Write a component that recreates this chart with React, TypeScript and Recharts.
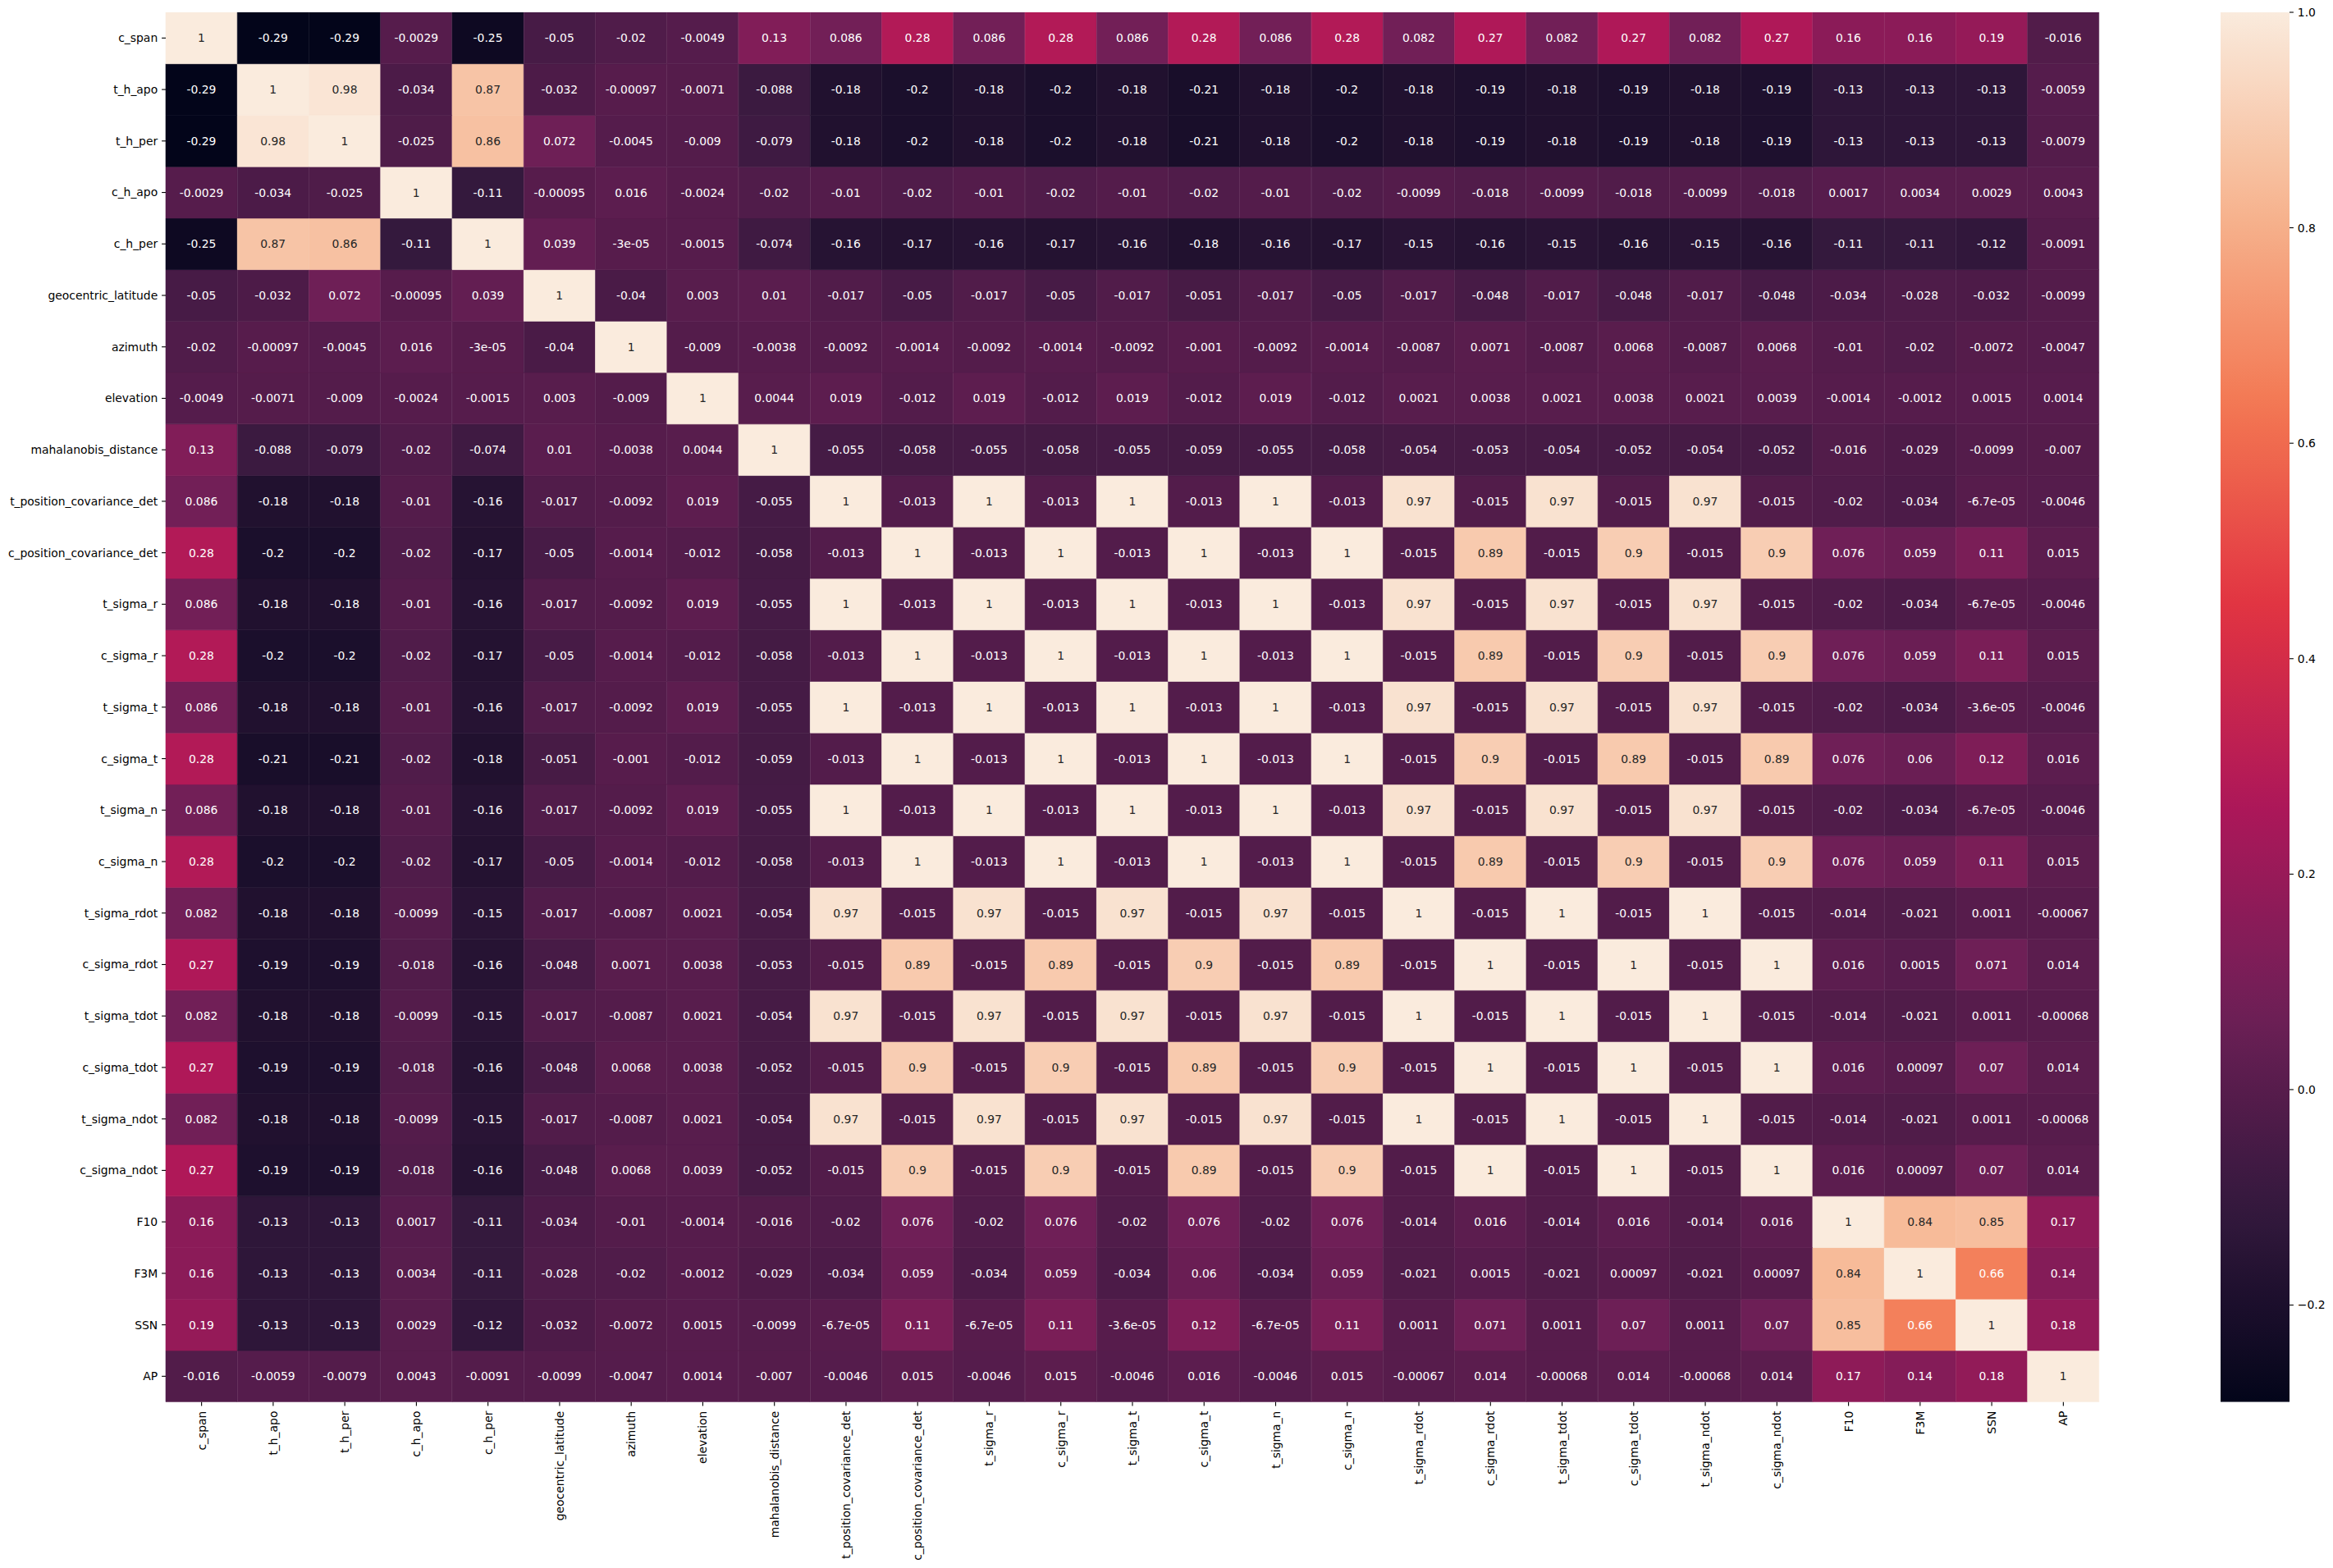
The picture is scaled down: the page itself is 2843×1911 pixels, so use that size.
import React from 'react';
import { BarChart, Bar, XAxis, YAxis, Cell, LabelList } from 'recharts';

const LABELS = [
  'c_span', 't_h_apo', 't_h_per', 'c_h_apo', 'c_h_per', 'geocentric_latitude', 'azimuth', 'elevation',
  'mahalanobis_distance', 't_position_covariance_det', 'c_position_covariance_det', 't_sigma_r', 'c_sigma_r',
  't_sigma_t', 'c_sigma_t', 't_sigma_n', 'c_sigma_n', 't_sigma_rdot', 'c_sigma_rdot', 't_sigma_tdot',
  'c_sigma_tdot', 't_sigma_ndot', 'c_sigma_ndot', 'F10', 'F3M', 'SSN', 'AP',
];

const r_c_span = [1, -0.29, -0.29, -0.0029, -0.25, -0.05, -0.02, -0.0049, 0.13, 0.086, 0.28, 0.086, 0.28, 0.086, 0.28, 0.086, 0.28, 0.082, 0.27, 0.082, 0.27, 0.082, 0.27, 0.16, 0.16, 0.19, -0.016];
const r_t_h_apo = [-0.29, 1, 0.98, -0.034, 0.87, -0.032, -0.00097, -0.0071, -0.088, -0.18, -0.2, -0.18, -0.2, -0.18, -0.21, -0.18, -0.2, -0.18, -0.19, -0.18, -0.19, -0.18, -0.19, -0.13, -0.13, -0.13, -0.0059];
const r_t_h_per = [-0.29, 0.98, 1, -0.025, 0.86, 0.072, -0.0045, -0.009, -0.079, -0.18, -0.2, -0.18, -0.2, -0.18, -0.21, -0.18, -0.2, -0.18, -0.19, -0.18, -0.19, -0.18, -0.19, -0.13, -0.13, -0.13, -0.0079];
const r_c_h_apo = [-0.0029, -0.034, -0.025, 1, -0.11, -0.00095, 0.016, -0.0024, -0.02, -0.01, -0.02, -0.01, -0.02, -0.01, -0.02, -0.01, -0.02, -0.0099, -0.018, -0.0099, -0.018, -0.0099, -0.018, 0.0017, 0.0034, 0.0029, 0.0043];
const r_c_h_per = [-0.25, 0.87, 0.86, -0.11, 1, 0.039, -3e-05, -0.0015, -0.074, -0.16, -0.17, -0.16, -0.17, -0.16, -0.18, -0.16, -0.17, -0.15, -0.16, -0.15, -0.16, -0.15, -0.16, -0.11, -0.11, -0.12, -0.0091];
const r_geo_lat = [-0.05, -0.032, 0.072, -0.00095, 0.039, 1, -0.04, 0.003, 0.01, -0.017, -0.05, -0.017, -0.05, -0.017, -0.051, -0.017, -0.05, -0.017, -0.048, -0.017, -0.048, -0.017, -0.048, -0.034, -0.028, -0.032, -0.0099];
const r_azimuth = [-0.02, -0.00097, -0.0045, 0.016, -3e-05, -0.04, 1, -0.009, -0.0038, -0.0092, -0.0014, -0.0092, -0.0014, -0.0092, -0.001, -0.0092, -0.0014, -0.0087, 0.0071, -0.0087, 0.0068, -0.0087, 0.0068, -0.01, -0.02, -0.0072, -0.0047];
const r_elevation = [-0.0049, -0.0071, -0.009, -0.0024, -0.0015, 0.003, -0.009, 1, 0.0044, 0.019, -0.012, 0.019, -0.012, 0.019, -0.012, 0.019, -0.012, 0.0021, 0.0038, 0.0021, 0.0038, 0.0021, 0.0039, -0.0014, -0.0012, 0.0015, 0.0014];
const r_mahal = [0.13, -0.088, -0.079, -0.02, -0.074, 0.01, -0.0038, 0.0044, 1, -0.055, -0.058, -0.055, -0.058, -0.055, -0.059, -0.055, -0.058, -0.054, -0.053, -0.054, -0.052, -0.054, -0.052, -0.016, -0.029, -0.0099, -0.007];
const r_t_pos_cov = [0.086, -0.18, -0.18, -0.01, -0.16, -0.017, -0.0092, 0.019, -0.055, 1, -0.013, 1, -0.013, 1, -0.013, 1, -0.013, 0.97, -0.015, 0.97, -0.015, 0.97, -0.015, -0.02, -0.034, -6.7e-05, -0.0046];
const r_c_pos_cov = [0.28, -0.2, -0.2, -0.02, -0.17, -0.05, -0.0014, -0.012, -0.058, -0.013, 1, -0.013, 1, -0.013, 1, -0.013, 1, -0.015, 0.89, -0.015, 0.9, -0.015, 0.9, 0.076, 0.059, 0.11, 0.015];
const r_t_sigma_r = [0.086, -0.18, -0.18, -0.01, -0.16, -0.017, -0.0092, 0.019, -0.055, 1, -0.013, 1, -0.013, 1, -0.013, 1, -0.013, 0.97, -0.015, 0.97, -0.015, 0.97, -0.015, -0.02, -0.034, -6.7e-05, -0.0046];
const r_c_sigma_r = [0.28, -0.2, -0.2, -0.02, -0.17, -0.05, -0.0014, -0.012, -0.058, -0.013, 1, -0.013, 1, -0.013, 1, -0.013, 1, -0.015, 0.89, -0.015, 0.9, -0.015, 0.9, 0.076, 0.059, 0.11, 0.015];
const r_t_sigma_t = [0.086, -0.18, -0.18, -0.01, -0.16, -0.017, -0.0092, 0.019, -0.055, 1, -0.013, 1, -0.013, 1, -0.013, 1, -0.013, 0.97, -0.015, 0.97, -0.015, 0.97, -0.015, -0.02, -0.034, -3.6e-05, -0.0046];
const r_c_sigma_t = [0.28, -0.21, -0.21, -0.02, -0.18, -0.051, -0.001, -0.012, -0.059, -0.013, 1, -0.013, 1, -0.013, 1, -0.013, 1, -0.015, 0.9, -0.015, 0.89, -0.015, 0.89, 0.076, 0.06, 0.12, 0.016];
const r_t_sigma_n = [0.086, -0.18, -0.18, -0.01, -0.16, -0.017, -0.0092, 0.019, -0.055, 1, -0.013, 1, -0.013, 1, -0.013, 1, -0.013, 0.97, -0.015, 0.97, -0.015, 0.97, -0.015, -0.02, -0.034, -6.7e-05, -0.0046];
const r_c_sigma_n = [0.28, -0.2, -0.2, -0.02, -0.17, -0.05, -0.0014, -0.012, -0.058, -0.013, 1, -0.013, 1, -0.013, 1, -0.013, 1, -0.015, 0.89, -0.015, 0.9, -0.015, 0.9, 0.076, 0.059, 0.11, 0.015];
const r_t_sigma_rdot = [0.082, -0.18, -0.18, -0.0099, -0.15, -0.017, -0.0087, 0.0021, -0.054, 0.97, -0.015, 0.97, -0.015, 0.97, -0.015, 0.97, -0.015, 1, -0.015, 1, -0.015, 1, -0.015, -0.014, -0.021, 0.0011, -0.00067];
const r_c_sigma_rdot = [0.27, -0.19, -0.19, -0.018, -0.16, -0.048, 0.0071, 0.0038, -0.053, -0.015, 0.89, -0.015, 0.89, -0.015, 0.9, -0.015, 0.89, -0.015, 1, -0.015, 1, -0.015, 1, 0.016, 0.0015, 0.071, 0.014];
const r_t_sigma_tdot = [0.082, -0.18, -0.18, -0.0099, -0.15, -0.017, -0.0087, 0.0021, -0.054, 0.97, -0.015, 0.97, -0.015, 0.97, -0.015, 0.97, -0.015, 1, -0.015, 1, -0.015, 1, -0.015, -0.014, -0.021, 0.0011, -0.00068];
const r_c_sigma_tdot = [0.27, -0.19, -0.19, -0.018, -0.16, -0.048, 0.0068, 0.0038, -0.052, -0.015, 0.9, -0.015, 0.9, -0.015, 0.89, -0.015, 0.9, -0.015, 1, -0.015, 1, -0.015, 1, 0.016, 0.00097, 0.07, 0.014];
const r_t_sigma_ndot = [0.082, -0.18, -0.18, -0.0099, -0.15, -0.017, -0.0087, 0.0021, -0.054, 0.97, -0.015, 0.97, -0.015, 0.97, -0.015, 0.97, -0.015, 1, -0.015, 1, -0.015, 1, -0.015, -0.014, -0.021, 0.0011, -0.00068];
const r_c_sigma_ndot = [0.27, -0.19, -0.19, -0.018, -0.16, -0.048, 0.0068, 0.0039, -0.052, -0.015, 0.9, -0.015, 0.9, -0.015, 0.89, -0.015, 0.9, -0.015, 1, -0.015, 1, -0.015, 1, 0.016, 0.00097, 0.07, 0.014];
const r_F10 = [0.16, -0.13, -0.13, 0.0017, -0.11, -0.034, -0.01, -0.0014, -0.016, -0.02, 0.076, -0.02, 0.076, -0.02, 0.076, -0.02, 0.076, -0.014, 0.016, -0.014, 0.016, -0.014, 0.016, 1, 0.84, 0.85, 0.17];
const r_F3M = [0.16, -0.13, -0.13, 0.0034, -0.11, -0.028, -0.02, -0.0012, -0.029, -0.034, 0.059, -0.034, 0.059, -0.034, 0.06, -0.034, 0.059, -0.021, 0.0015, -0.021, 0.00097, -0.021, 0.00097, 0.84, 1, 0.66, 0.14];
const r_SSN = [0.19, -0.13, -0.13, 0.0029, -0.12, -0.032, -0.0072, 0.0015, -0.0099, -6.7e-05, 0.11, -6.7e-05, 0.11, -3.6e-05, 0.12, -6.7e-05, 0.11, 0.0011, 0.071, 0.0011, 0.07, 0.0011, 0.07, 0.85, 0.66, 1, 0.18];
const r_AP = [-0.016, -0.0059, -0.0079, 0.0043, -0.0091, -0.0099, -0.0047, 0.0014, -0.007, -0.0046, 0.015, -0.0046, 0.015, -0.0046, 0.016, -0.0046, 0.015, -0.00067, 0.014, -0.00068, 0.014, -0.00068, 0.014, 0.17, 0.14, 0.18, 1];

const ROWS = [
  r_c_span, r_t_h_apo, r_t_h_per, r_c_h_apo, r_c_h_per, r_geo_lat, r_azimuth, r_elevation, r_mahal,
  r_t_pos_cov, r_c_pos_cov, r_t_sigma_r, r_c_sigma_r, r_t_sigma_t, r_c_sigma_t, r_t_sigma_n, r_c_sigma_n,
  r_t_sigma_rdot, r_c_sigma_rdot, r_t_sigma_tdot, r_c_sigma_tdot, r_t_sigma_ndot, r_c_sigma_ndot,
  r_F10, r_F3M, r_SSN, r_AP,
];

const VMIN = -0.29;
const VMAX = 1;
const CB_TICKS = [-0.2, 0, 0.2, 0.4, 0.6, 0.8, 1.0];

// rocket colormap anchor points
const ROCKET: number[][] = [
  [0, 3, 5, 26],
  [1 / 7, 53, 25, 62],
  [2 / 7, 112, 31, 87],
  [3 / 7, 173, 23, 89],
  [4 / 7, 225, 51, 66],
  [5 / 7, 243, 118, 81],
  [6 / 7, 246, 180, 143],
  [1, 250, 235, 221],
];

const FONT = 'DejaVu Sans';
const FS = 13.9;

function rocketRGB(t: number): number[] {
  const x = Math.max(0, Math.min(1, t));
  for (let k = 0; k < ROCKET.length - 1; k++) {
    const a = ROCKET[k];
    const b = ROCKET[k + 1];
    if (x >= a[0] && x <= b[0]) {
      const f = (x - a[0]) / (b[0] - a[0]);
      return [a[1] + (b[1] - a[1]) * f, a[2] + (b[2] - a[2]) * f, a[3] + (b[3] - a[3]) * f];
    }
  }
  return ROCKET[ROCKET.length - 1].slice(1);
}
function toHex(c: number[]) {
  return '#' + c.map((v) => Math.round(v).toString(16).padStart(2, '0')).join('');
}
function colorFor(v: number) {
  return toHex(rocketRGB((v - VMIN) / (VMAX - VMIN)));
}
function textColorFor(v: number) {
  const c = rocketRGB((v - VMIN) / (VMAX - VMIN)).map((u) => {
    const s = u / 255;
    return s <= 0.03928 ? s / 12.92 : Math.pow((s + 0.055) / 1.055, 2.4);
  });
  const lum = 0.2126 * c[0] + 0.7152 * c[1] + 0.0722 * c[2];
  return lum > 0.408 ? '#262626' : '#ffffff';
}
function fmt(v: number): string {
  if (v === 0) return '0';
  const p = Number(v.toPrecision(2));
  const e = Math.floor(Math.log10(Math.abs(p)));
  if (e < -4 || e >= 2) {
    const s = p.toExponential(1);
    let [m, ex] = s.split('e');
    if (m.includes('.')) m = m.replace(/\.?0+$/, '');
    const sign = ex[0] === '-' ? '-' : '+';
    const digits = ex.replace(/^[+-]/, '').padStart(2, '0');
    return `${m}e${sign}${digits}`;
  }
  let s = p.toPrecision(2);
  if (s.includes('.')) s = s.replace(/\.?0+$/, '');
  return s;
}

const N = LABELS.length;
// rows are stacked bottom-up: series k corresponds to row N-1-k
const DATA = LABELS.map((name, j) => {
  const o: any = { col: name };
  for (let k = 0; k < N; k++) {
    const i = N - 1 - k;
    o['s' + k] = 1;
    o['v' + k] = ROWS[i][j];
  }
  return o;
});
const Y_TICKS = LABELS.map((_, k) => k + 0.5);

const XTick = (props: any) => {
  const { x, y, payload } = props;
  return (
    <text
      x={x}
      y={y}
      transform={`rotate(-90, ${x}, ${y})`}
      textAnchor="end"
      dy="0.36em"
      fontSize={FS}
      fontFamily={FONT}
      fill="#000"
    >
      {payload.value}
    </text>
  );
};

const renderCellLabel = (p: any) => {
  const vb = p.viewBox || p;
  const x = vb.x ?? p.x;
  const y = vb.y ?? p.y;
  const w = vb.width ?? p.width;
  const h = vb.height ?? p.height;
  const v = Number(p.value);
  return (
    <text
      x={x + w / 2}
      y={y + h / 2}
      dy="0.36em"
      textAnchor="middle"
      fontSize={FS}
      fontFamily={FONT}
      fill={textColorFor(v)}
    >
      {fmt(v)}
    </text>
  );
};

const CB_DATA = [{ name: 'cb', range: [VMIN, VMAX] }];
const GRAD_STOPS = Array.from({ length: 41 }, (_, k) => k / 40);

export default function App() {
  return (
    <div
      style={{
        position: 'absolute',
        left: 0,
        top: 0,
        width: 2843,
        height: 1911,
        background: '#fff',
        fontFamily: FONT,
      }}
    >
      <div style={{ position: 'absolute', left: 0, top: 0 }}>
        <BarChart
          width={2843}
          height={1911}
          data={DATA}
          margin={{ top: 15, right: 285, bottom: 0, left: 0 }}
          barCategoryGap={0}
          barGap={0}
        >
          <XAxis
            dataKey="col"
            type="category"
            interval={0}
            height={202.3}
            axisLine={false}
            tickSize={4.9}
            tickMargin={6}
            tickLine={{ stroke: '#000', strokeWidth: 1.1 }}
            tick={<XTick />}
          />
          <YAxis
            type="number"
            domain={[0, N]}
            ticks={Y_TICKS}
            interval={0}
            width={202}
            axisLine={false}
            tickSize={4.9}
            tickMargin={4.9}
            tickLine={{ stroke: '#000', strokeWidth: 1.1 }}
            tickFormatter={(v: number) => LABELS[N - 1 - Math.floor(v)]}
            tick={{ fill: '#000', fontSize: FS, fontFamily: FONT }}
            allowDataOverflow
          />
          {LABELS.map((_, k) => {
            const i = N - 1 - k;
            return (
              <Bar key={k} dataKey={'s' + k} stackId="h" isAnimationActive={false}>
                {ROWS[i].map((val, j) => (
                  <Cell key={j} fill={colorFor(val)} stroke={colorFor(val)} strokeWidth={0.6} />
                ))}
                <LabelList dataKey={'v' + k} content={renderCellLabel} />
              </Bar>
            );
          })}
        </BarChart>
      </div>
      <div style={{ position: 'absolute', left: 2600, top: 0 }}>
        <BarChart
          width={243}
          height={1911}
          data={CB_DATA}
          margin={{ top: 15, right: 0, bottom: 202.3, left: 106 }}
          barCategoryGap={0}
        >
          <defs>
            <linearGradient id="rocketGrad" x1="0" y1="0" x2="0" y2="1">
              {GRAD_STOPS.map((o) => (
                <stop key={o} offset={o} stopColor={toHex(rocketRGB(1 - o))} />
              ))}
            </linearGradient>
          </defs>
          <XAxis dataKey="name" hide height={0} />
          <YAxis
            orientation="right"
            type="number"
            domain={[VMIN, VMAX]}
            ticks={CB_TICKS}
            interval={0}
            width={53}
            axisLine={false}
            tickSize={4.9}
            tickMargin={4.9}
            tickLine={{ stroke: '#000', strokeWidth: 1.1 }}
            tickFormatter={(v: number) => (v < 0 ? '\u2212' : '') + Math.abs(v).toFixed(1)}
            tick={{ fill: '#000', fontSize: FS, fontFamily: FONT, textAnchor: 'start' }}
            allowDataOverflow
          />
          <Bar dataKey="range" fill="url(#rocketGrad)" isAnimationActive={false} />
        </BarChart>
      </div>
    </div>
  );
}
